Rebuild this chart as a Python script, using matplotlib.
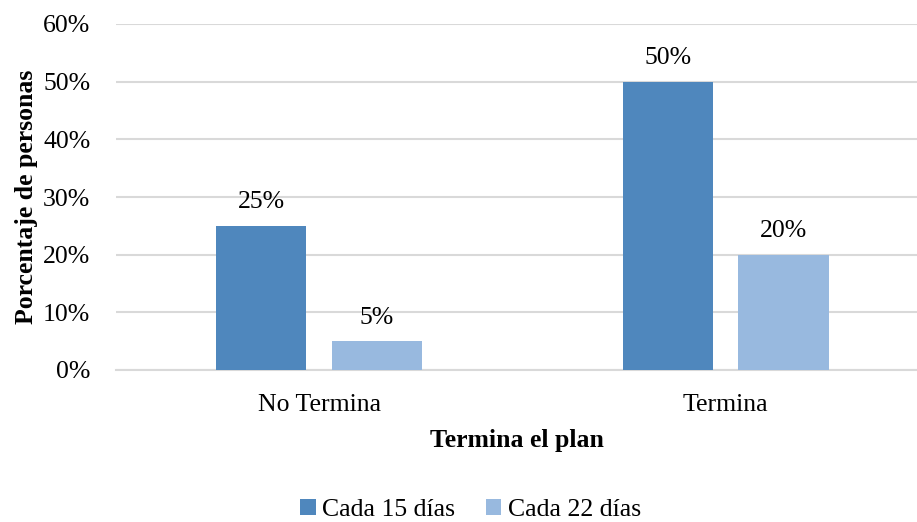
import matplotlib.pyplot as plt
import numpy as np

categorias = ['No Termina', 'Termina']
series = ['Cada 15 días', 'Cada 22 días']
cada_15 = [25, 50]
cada_22 = [5, 20]
colores = ['#4F87BD', '#98B9DF']

plt.rcParams['font.family'] = ['Liberation Serif', 'DejaVu Serif']
fs = 18.5

fig = plt.figure(figsize=(9.17, 5.22), dpi=100)
ax = fig.add_axes([116 / 917, (522 - 370) / 522, 1 - 116 / 917, 346 / 522])

x = np.arange(len(categorias))
ancho = 0.222
desp = 0.1425
for vals, d, col, nombre in [(cada_15, -desp, colores[0], series[0]),
                             (cada_22, desp, colores[1], series[1])]:
    barras = ax.bar(x + d, vals, ancho, color=col, label=nombre, zorder=3)
    for b, v in zip(barras, vals):
        ax.annotate(f'{v}%', (b.get_x() + b.get_width() / 2, v),
                    xytext=(0, 9), textcoords='offset points',
                    ha='center', va='bottom', fontsize=fs)

ax.set_xlim(-0.5, 1.471)
ax.set_ylim(0, 60)
ax.set_yticks(range(0, 61, 10))
ax.set_yticklabels([f'{t}%' for t in range(0, 61, 10)], fontsize=fs)
ax.set_xticks(x)
ax.set_xticklabels(categorias, fontsize=fs)
ax.tick_params(axis='y', length=0, pad=18.5)
ax.tick_params(axis='x', length=0, pad=17)
ax.grid(axis='y', color='#D9D9D9', linewidth=1.5, zorder=0)
for s in ['top', 'right', 'left']:
    ax.spines[s].set_visible(False)
ax.spines['bottom'].set_color('#D9D9D9')
ax.spines['bottom'].set_linewidth(1.5)

ax.set_ylabel('Porcentaje de personas', fontsize=fs, fontweight='bold', labelpad=4)
ax.set_xlabel('Termina el plan', fontsize=fs, fontweight='bold', labelpad=10)

fig.legend(loc='center', bbox_to_anchor=(0.513, 0.023), ncol=2, frameon=False,
           fontsize=fs, handlelength=0.6, handleheight=0.6, handletextpad=0.25,
           columnspacing=1.2)

fig.savefig('out.png', dpi=100)
